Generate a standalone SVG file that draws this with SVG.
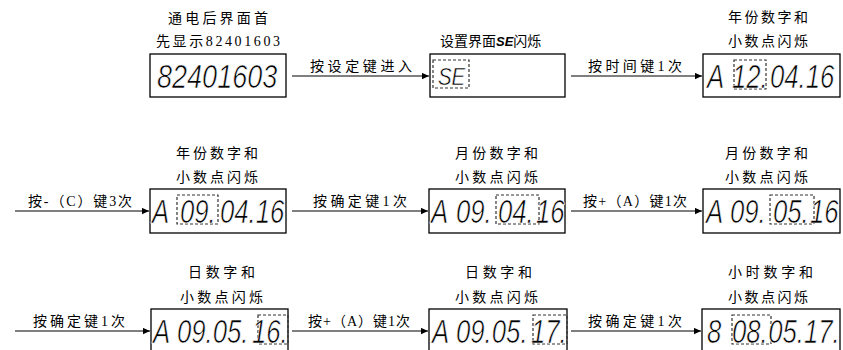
<svg xmlns="http://www.w3.org/2000/svg" width="843" height="350" viewBox="0 0 843 350">
<defs>
<style>
.t { font-family: "Liberation Serif", "Noto Sans CJK SC", serif; font-size: 14px; fill: #000; }
.box { fill: #fff; stroke: #000; stroke-width: 1.3; }
.dash { fill: none; stroke: #333; stroke-width: 1.2; stroke-dasharray: 3 2; }
.seg { font-family: "Liberation Sans", "DejaVu Sans", sans-serif; font-style: italic; font-size: 33px; fill: #000; stroke: #fff; stroke-width: 0.7; }
.segs { font-family: "Liberation Sans", "DejaVu Sans", sans-serif; font-style: italic; font-size: 24px; fill: #000; stroke: #fff; stroke-width: 0.5; }
.ti { font-family: "Liberation Sans", sans-serif; font-style: italic; font-weight: bold; font-size: 13px; }
.conn line { stroke: #000; stroke-width: 1.2; marker-end: url(#ah); }
</style>
<marker id="ah" viewBox="0 0 10 10" refX="10" refY="5" markerWidth="8" markerHeight="7" markerUnits="userSpaceOnUse" orient="auto">
<path d="M0,0.5 L10,5 L0,9.5 z" fill="#000"/>
</marker>
</defs>
<rect width="843" height="350" fill="#fff"/>

<g id="connectors" class="conn">
<line x1="292" y1="76" x2="429" y2="76"/>
<line x1="571" y1="76" x2="702" y2="76"/>
<line x1="15" y1="211" x2="149" y2="211"/>
<line x1="292" y1="211" x2="428" y2="211"/>
<line x1="571" y1="211" x2="702" y2="211"/>
<line x1="15" y1="331" x2="150" y2="331"/>
<line x1="292" y1="331" x2="428" y2="331"/>
<line x1="571" y1="331" x2="701" y2="331"/>
</g>

<g id="labels">
<text class="t" x="310" y="71" textLength="102" lengthAdjust="spacing">按设定键进入</text>
<text class="t" x="588" y="71" textLength="94" lengthAdjust="spacing">按时间键1次</text>
<text class="t" x="28" y="206" textLength="104" lengthAdjust="spacing">按-（C）键3次</text>
<text class="t" x="313" y="206" textLength="94" lengthAdjust="spacing">按确定键1次</text>
<text class="t" x="583" y="206" textLength="104" lengthAdjust="spacing">按+（A）键1次</text>
<text class="t" x="33" y="326" textLength="92" lengthAdjust="spacing">按确定键1次</text>
<text class="t" x="308" y="326" textLength="102" lengthAdjust="spacing">按+（A）键1次</text>
<text class="t" x="588" y="326" textLength="94" lengthAdjust="spacing">按确定键1次</text>
</g>

<g id="node1">
<text class="t" x="168" y="23" textLength="100" lengthAdjust="spacing">通电后界面首</text>
<text class="t" x="156" y="46" textLength="124" lengthAdjust="spacing">先显示82401603</text>
<rect class="box" x="150" y="54" width="136" height="43"/>
<text class="seg" transform="scale(0.82,1)" x="191.46" y="88">82401603</text>
</g>

<g id="node2">
<text class="t" x="440" y="46">设置界面<tspan class="ti">SE</tspan>闪烁</text>
<rect class="box" x="430" y="54" width="135" height="43"/>
<rect class="dash" x="433" y="60" width="36" height="28"/>
<text class="segs" transform="scale(0.85,1)" x="515.3" y="85">SE</text>
</g>

<g id="node3">
<text class="t" x="728" y="22" textLength="80" lengthAdjust="spacing">年份数字和</text>
<text class="t" x="728" y="46" textLength="80" lengthAdjust="spacing">小数点闪烁</text>
<rect class="box" x="703" y="54" width="137" height="43"/>
<rect class="dash" x="734" y="60" width="32" height="29"/>
<text class="seg" transform="scale(0.78,1)" y="88"><tspan x="906.41">A</tspan><tspan x="938.46">12.</tspan><tspan x="987.18">04.16</tspan></text>
</g>

<g id="node4">
<text class="t" x="176" y="158" textLength="82" lengthAdjust="spacing">年份数字和</text>
<text class="t" x="176" y="182" textLength="82" lengthAdjust="spacing">小数点闪烁</text>
<rect class="box" x="150" y="189" width="136" height="44"/>
<rect class="dash" x="177" y="195" width="41" height="29"/>
<text class="seg" transform="scale(0.78,1)" y="223"><tspan x="194.87">A</tspan><tspan x="230.77">09.</tspan><tspan x="282.05">04.16</tspan></text>
</g>

<g id="node5">
<text class="t" x="455" y="158" textLength="83" lengthAdjust="spacing">月份数字和</text>
<text class="t" x="455" y="182" textLength="83" lengthAdjust="spacing">小数点闪烁</text>
<rect class="box" x="429" y="189" width="136" height="44"/>
<rect class="dash" x="496" y="195" width="43" height="29"/>
<text class="seg" transform="scale(0.78,1)" y="223"><tspan x="552.56">A</tspan><tspan x="584.62">09.</tspan><tspan x="638.46">04.</tspan><tspan x="687.18">16</tspan></text>
</g>

<g id="node6">
<text class="t" x="725" y="158" textLength="83" lengthAdjust="spacing">月份数字和</text>
<text class="t" x="725" y="182" textLength="83" lengthAdjust="spacing">小数点闪烁</text>
<rect class="box" x="703" y="189" width="137" height="44"/>
<rect class="dash" x="770" y="195" width="44" height="29"/>
<text class="seg" transform="scale(0.78,1)" y="223"><tspan x="905.13">A</tspan><tspan x="935.9">09.</tspan><tspan x="991.03">05.</tspan><tspan x="1038.46">16</tspan></text>
</g>

<g id="node7">
<text class="t" x="188" y="277" textLength="67" lengthAdjust="spacing">日数字和</text>
<text class="t" x="180" y="302" textLength="83" lengthAdjust="spacing">小数点闪烁</text>
<rect class="box" x="151" y="309" width="137" height="50"/>
<rect class="dash" x="258" y="315" width="30" height="29"/>
<text class="seg" transform="scale(0.78,1)" y="343"><tspan x="196.15">A</tspan><tspan x="226.92">09.05.</tspan><tspan x="323.08">16.</tspan></text>
</g>

<g id="node8">
<text class="t" x="465" y="277" textLength="67" lengthAdjust="spacing">日数字和</text>
<text class="t" x="455" y="302" textLength="83" lengthAdjust="spacing">小数点闪烁</text>
<rect class="box" x="429" y="309" width="138" height="50"/>
<rect class="dash" x="533" y="315" width="34" height="29"/>
<text class="seg" transform="scale(0.78,1)" y="343"><tspan x="553.85">A</tspan><tspan x="584.62">09.05.</tspan><tspan x="680.77">17.</tspan></text>
</g>

<g id="node9">
<text class="t" x="728" y="277" textLength="85" lengthAdjust="spacing">小时数字和</text>
<text class="t" x="728" y="302" textLength="80" lengthAdjust="spacing">小数点闪烁</text>
<rect class="box" x="702" y="309" width="138" height="50"/>
<rect class="dash" x="732" y="315" width="39" height="29"/>
<text class="seg" transform="scale(0.78,1)" y="343"><tspan x="906.41">8</tspan><tspan x="938.46">08.</tspan><tspan x="984.87">05.17.</tspan></text>
</g>
</svg>
